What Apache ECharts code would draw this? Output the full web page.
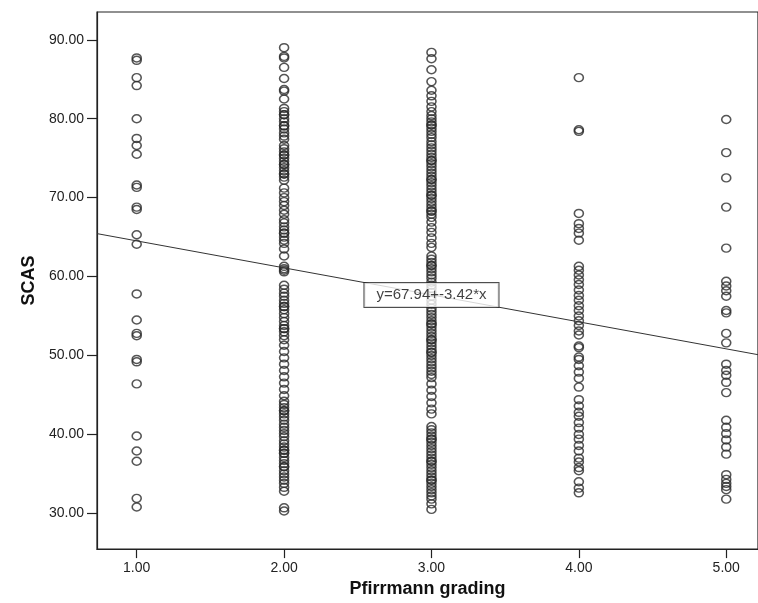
<!DOCTYPE html>
<html>
<head>
<meta charset="utf-8">
<script src="https://cdn.jsdelivr.net/npm/echarts@6/dist/echarts.min.js"></script>
<style>
html,body{margin:0;padding:0;background:#fff;}
#chart{width:758px;height:603px;}
</style>
</head>
<body>
<div id="chart"></div>
<script>
// ---- data ----
const xTicks = [1, 2, 3, 4, 5];
const yTicks = [30, 40, 50, 60, 70, 80, 90];
const xTitle = 'Pfirrmann grading';
const yTitle = 'SCAS';
const fitIntercept = 67.94;
const fitSlope = -3.42;
const fitLabel = 'y=67.94+-3.42*x';

const grade1 = [87.7, 87.4, 85.2, 84.2, 80.0, 77.5, 76.6, 75.5, 71.6, 71.3, 68.8, 68.5, 65.3, 64.1,
  57.8, 54.5, 52.8, 52.5, 49.5, 49.2, 46.4, 39.8, 37.9, 36.6, 31.9, 30.8];

const grade2 = [89.0, 87.9, 87.7, 86.5, 85.1, 83.7, 83.5, 82.5,
  81.3, 80.9, 80.5, 80.5, 80.0, 79.6, 79.1, 79.1, 78.7, 78.2, 77.8, 77.4,
  76.6, 76.2, 75.8, 75.4, 75.4, 75.0, 74.6, 74.2, 74.2, 73.8, 73.4, 73.0, 73.0, 72.6, 72.2,
  71.2, 70.6, 70.0, 69.5, 69.0, 68.4, 67.9,
  67.2, 66.8, 66.3, 65.9, 65.5, 65.5, 65.0, 64.6, 64.2,
  63.5, 62.6, 61.3, 61.0, 60.8, 60.6,
  58.9, 58.4, 57.9, 57.5, 57.0, 56.6, 56.2, 56.2, 55.8, 55.3, 54.8, 54.3, 53.8, 53.4, 53.4, 53.0, 52.5, 52.0,
  51.3, 50.5, 49.7, 48.9, 48.1, 47.3, 46.5, 45.7, 44.9,
  44.2, 43.8, 43.4, 43.0, 43.0, 42.6, 42.2, 41.8, 41.3, 40.9, 40.5, 40.1, 39.7, 39.2, 38.8, 38.4,
  38.0, 38.0, 37.6, 37.6, 37.1, 36.7, 36.3, 35.9, 35.9, 35.4, 35.0, 34.6, 34.2, 33.8, 33.3, 32.8,
  30.7, 30.3];

const grade3 = [88.4, 87.6, 86.2, 84.7,
  83.6, 82.9, 82.2, 81.5, 80.9, 80.4,
  80.0, 79.6, 79.2, 79.2, 78.8, 78.4, 78.0, 77.6,
  77.1, 76.7, 76.3, 75.9, 75.5, 75.1, 74.7, 74.7, 74.3, 73.9, 73.5, 73.1, 72.7, 72.3, 72.3, 71.9,
  71.5, 71.1, 70.7, 70.3, 70.3, 69.9, 69.5, 69.1, 68.7, 68.3, 68.3, 67.9, 67.5,
  66.9, 66.2, 65.6, 64.9, 64.2, 63.7,
  62.6, 62.2, 61.8, 61.4, 61.4, 61.0, 60.6, 60.2, 59.8,
  59.3, 58.9, 58.5, 58.0, 57.5, 57.0, 56.5,
  56.0, 55.6, 55.2, 54.8, 54.4, 54.0, 54.0, 53.6, 53.2, 52.8, 52.4, 52.0, 52.0, 51.6, 51.2, 50.8,
  50.4, 50.4, 50.0, 49.6, 49.2, 48.8, 48.4, 48.0, 47.6, 47.2,
  46.4, 45.6, 44.8, 44.0, 43.2, 42.6,
  41.0, 40.6, 40.2, 39.8, 39.4, 39.4, 39.0, 38.6, 38.2, 37.8, 37.4, 37.0, 36.6, 36.6, 36.2, 35.8,
  35.4, 35.0, 34.6, 34.2, 34.2, 33.8, 33.4, 33.0, 32.6, 32.2,
  31.8, 31.2, 30.5];

const grade4 = [85.2, 78.6, 78.4, 68.0, 66.7, 66.1, 65.5, 64.6,
  61.3, 60.8, 60.2, 59.6, 59.0, 58.3, 57.6, 57.0,
  56.3, 55.7, 55.0, 54.4, 53.8, 53.1, 52.6, 51.2, 51.0,
  49.8, 49.5, 48.7, 47.9, 47.1, 46.0,
  44.4, 43.6, 42.8, 42.3, 41.5, 40.8, 40.0,
  39.4, 38.6, 37.9, 37.0, 36.5, 35.8, 35.4,
  34.0, 33.2, 32.6];

const grade5 = [79.9, 75.7, 72.5, 68.8, 63.6, 59.4, 58.8, 58.2, 57.5, 55.7, 55.4, 52.8, 51.6,
  48.9, 48.1, 47.5, 46.6, 45.3, 41.8, 40.9, 40.1, 39.3, 38.4, 37.5,
  34.9, 34.3, 33.8, 33.4, 33.0, 31.8];

// ---- build ----
const groups = [grade1, grade2, grade3, grade4, grade5];
const points = [];
groups.forEach((vals, i) => vals.forEach(v => points.push([xTicks[i], v])));

const xMin = 0.7306, xMax = 5.2155;
const yMin = 25.47, yMax = 93.52;
const fit = x => fitIntercept + fitSlope * x;
const midX = 3;

const FONT = 'Liberation Sans, Arial, sans-serif';
const chart = echarts.init(document.getElementById('chart'), null, {renderer: 'canvas'});
chart.setOption({
  animation: false,
  backgroundColor: '#fff',
  grid: {left: 97, right: -5, top: 12, bottom: 50, show: true, borderColor: '#222', borderWidth: 1.2, backgroundColor: 'transparent'},
  xAxis: {
    type: 'value', min: xMin, max: xMax,
    name: xTitle, nameLocation: 'middle', nameGap: 29,
    nameTextStyle: {fontFamily: FONT, fontWeight: 'bold', fontSize: 18, color: '#111'},
    axisLine: {show: true, onZero: false, lineStyle: {color: '#222', width: 1.2}},
    axisTick: {show: true, length: 9, customValues: xTicks, lineStyle: {color: '#222', width: 1.2}},
    axisLabel: {customValues: xTicks, formatter: v => v.toFixed(2), margin: 12,
      fontFamily: FONT, fontSize: 14, color: '#222'},
    splitLine: {show: false}
  },
  yAxis: {
    type: 'value', min: yMin, max: yMax,
    name: yTitle, nameLocation: 'middle', nameGap: 57, nameRotate: 90,
    nameTextStyle: {fontFamily: FONT, fontWeight: 'bold', fontSize: 18, color: '#111'},
    axisLine: {show: true, onZero: false, lineStyle: {color: '#222', width: 1.2}},
    axisTick: {show: true, length: 10, customValues: yTicks, lineStyle: {color: '#222', width: 1.2}},
    axisLabel: {customValues: yTicks, formatter: v => v.toFixed(2), margin: 13,
      fontFamily: FONT, fontSize: 14, color: '#222'},
    splitLine: {show: false}
  },
  series: [
    {
      type: 'scatter', data: points, z: 2,
      symbol: 'circle', symbolSize: [9, 8],
      itemStyle: {color: 'rgba(0,0,0,0)', borderColor: '#2a2a2a', borderWidth: 1.5}
    },
    {
      type: 'line', data: [[xMin, fit(xMin)], [xMax, fit(xMax)]], z: 3,
      symbol: 'none', lineStyle: {color: '#333', width: 1}
    },
    {
      type: 'scatter', data: [[midX, fit(midX)]], z: 5,
      symbolSize: 1, itemStyle: {color: 'rgba(0,0,0,0)'},
      label: {show: true, position: 'inside', formatter: fitLabel,
        fontFamily: FONT, fontSize: 15, color: '#111',
        backgroundColor: '#fff', borderColor: '#222', borderWidth: 1, padding: [5, 12, 4, 12]}
    }
  ]
});
</script>
</body>
</html>
